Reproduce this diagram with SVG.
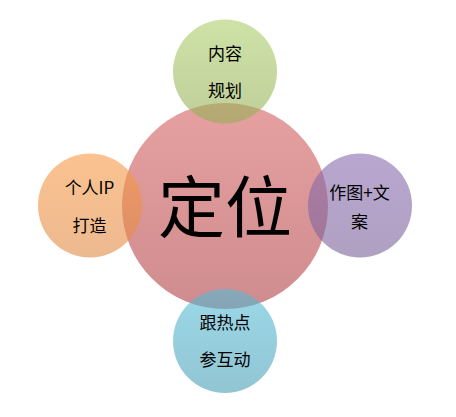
<svg xmlns="http://www.w3.org/2000/svg" width="456" height="417" viewBox="0 0 456 417">
<style>
text{font-family:"Noto Sans CJK SC","Microsoft YaHei","Noto Sans",sans-serif;fill:#000;text-anchor:middle}
.s{font-size:17px}
.big{font-size:67px}
</style>
<defs>
<linearGradient id="gc" x1="0" y1="0" x2="0" y2="1"><stop offset="0" stop-color="#E6A0A0"/><stop offset="1" stop-color="#CF8C8E"/></linearGradient>
<linearGradient id="gg" x1="0" y1="0" x2="0" y2="1"><stop offset="0" stop-color="#A6CA5E" stop-opacity="0.55"/><stop offset="1" stop-color="#93AE55" stop-opacity="0.6"/></linearGradient>
<linearGradient id="go" x1="0" y1="0" x2="0" y2="1"><stop offset="0" stop-color="#F99A45" stop-opacity="0.6"/><stop offset="1" stop-color="#E08A45" stop-opacity="0.6"/></linearGradient>
<linearGradient id="gp" x1="0" y1="0" x2="0" y2="1"><stop offset="0" stop-color="#8B6BB0" stop-opacity="0.6"/><stop offset="1" stop-color="#7A6299" stop-opacity="0.6"/></linearGradient>
<linearGradient id="gb" x1="0" y1="0" x2="0" y2="1"><stop offset="0" stop-color="#52BCD8" stop-opacity="0.58"/><stop offset="1" stop-color="#4A9EB4" stop-opacity="0.6"/></linearGradient>
</defs>
<g id="connectors"/>
<g id="center"><circle cx="225" cy="206" r="103" fill="url(#gc)"/></g>
<g id="top"><circle cx="225" cy="71.5" r="52" fill="url(#gg)"/><text class="s" x="225" y="60">内容</text><text class="s" x="225" y="97">规划</text></g>
<g id="left"><circle cx="90" cy="205.5" r="52" fill="url(#go)"/><text class="s" x="89.5" y="194">个人IP</text><text class="s" x="89.5" y="232">打造</text></g>
<g id="right"><circle cx="360" cy="205.5" r="52" fill="url(#gp)"/><text class="s" x="359.5" y="199">作图+文</text><text class="s" x="359.5" y="228">案</text></g>
<g id="bottom"><circle cx="225" cy="341" r="52" fill="url(#gb)"/><text class="s" x="225" y="329">跟热点</text><text class="s" x="225" y="366">参互动</text></g>
<g id="centertext"><text class="big" x="225" y="232">定位</text></g>
</svg>
